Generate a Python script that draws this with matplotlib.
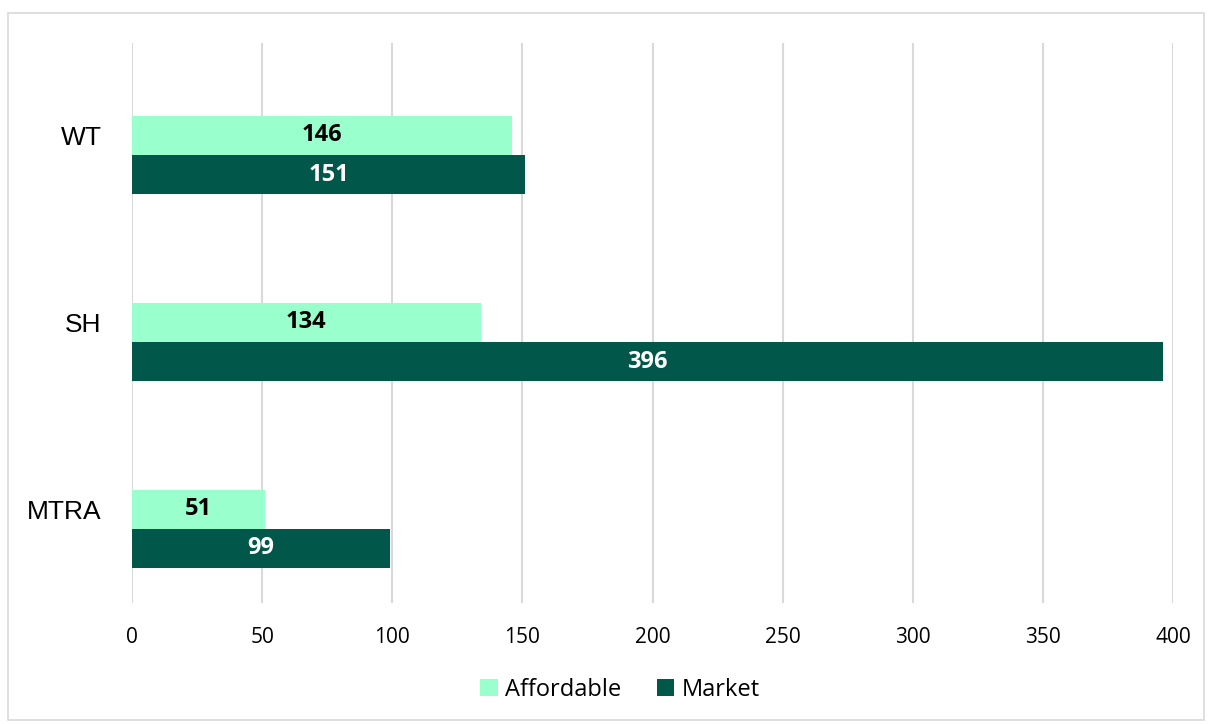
import matplotlib
matplotlib.use("Agg")
import matplotlib.pyplot as plt
from matplotlib.patches import Rectangle
import numpy as np

categories = ["WT", "SH", "MTRA"]
affordable = [146, 134, 51]
market = [151, 396, 99]
xticks = [0, 50, 100, 150, 200, 250, 300, 350, 400]

col_aff = "#99FFCC"
col_mkt = "#02574B"
grid_col = "#D9D9D9"

fig = plt.figure(figsize=(12.09, 7.24), dpi=100)
ax = fig.add_axes([132 / 1209, (724 - 603) / 724, (1173 - 132) / 1209, 560 / 724])

# outer chart border
fig.patches.append(Rectangle((8 / 1209, 4 / 724), 1196 / 1209, 707 / 724,
                             transform=fig.transFigure, fill=False,
                             edgecolor=grid_col, linewidth=1.2))

y = np.arange(len(categories))
h = 0.209
b1 = ax.barh(y - h / 2, affordable, height=h, color=col_aff, label="Affordable")
b2 = ax.barh(y + h / 2, market, height=h, color=col_mkt, label="Market")

for bar, v in zip(b1, affordable):
    ax.text(v / 2, bar.get_y() + bar.get_height() / 2, str(v), ha="center", va="center",
            fontsize=17, fontweight="bold", color="black", family="Open Sans")
for bar, v in zip(b2, market):
    ax.text(v / 2, bar.get_y() + bar.get_height() / 2, str(v), ha="center", va="center",
            fontsize=17, fontweight="bold", color="white", family="Open Sans")

ax.set_xlim(0, 400)
ax.set_ylim(2.396, -0.599)
ax.set_xticks(xticks)
ax.set_xticklabels([str(t) for t in xticks], family="Open Sans", fontsize=15)
ax.set_yticks(y - h / 2)
ax.set_yticklabels(categories, family="Liberation Sans", fontsize=19)
ax.tick_params(axis="both", length=0)
ax.tick_params(axis="x", pad=17)
ax.tick_params(axis="y", pad=22)
ax.grid(axis="x", color=grid_col, linewidth=1.5)
ax.set_axisbelow(True)
for s in ax.spines.values():
    s.set_visible(False)

leg = fig.legend(handles=[b1, b2], loc="center", bbox_to_anchor=(620 / 1209, 1 - 690 / 724),
                 ncol=2, frameon=False, prop={"family": "Open Sans", "size": 17},
                 handlelength=0.75, handleheight=0.75, handletextpad=0.3, columnspacing=1.5)

fig.savefig("out.png", dpi=100)
